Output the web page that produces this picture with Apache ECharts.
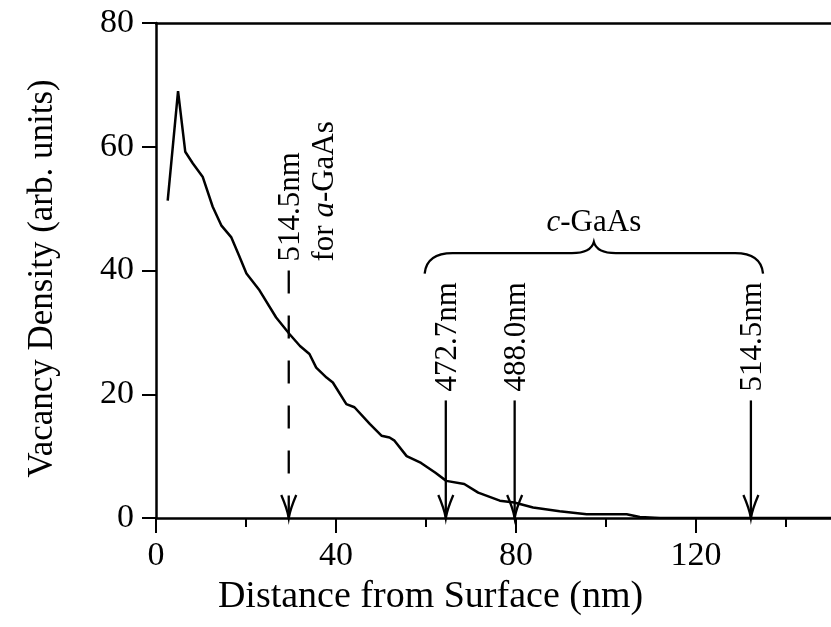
<!DOCTYPE html>
<html>
<head>
<meta charset="utf-8">
<script src="https://cdn.jsdelivr.net/npm/echarts@6/dist/echarts.min.js"></script>
<style>
  html, body { margin: 0; padding: 0; background: #fff; }
  #chart { width: 831px; height: 627px; }
</style>
</head>
<body>
<div id="chart"></div>
<script>
// Vacancy density profile below the surface
const depth = [2.6, 4.9, 6.5, 8.2, 10.4, 12.6, 14.5, 16.7, 18.4, 20.1, 23.0, 26.7, 29.7, 32.0, 34.1, 35.6, 37.9, 39.3, 42.3, 44.1, 47.5, 50.1, 51.9, 53.0, 55.7, 58.9, 62.1, 64.5, 68.5, 71.6, 76.4, 79.6, 83.8, 89.7, 95.7, 104.6, 107.5, 112, 150];
const density = [51.3, 69.0, 59.2, 57.3, 55.1, 50.3, 47.3, 45.4, 42.5, 39.5, 36.8, 32.4, 29.7, 27.8, 26.5, 24.3, 22.7, 21.9, 18.4, 17.9, 15.2, 13.3, 13.0, 12.5, 10.0, 8.9, 7.3, 6.0, 5.5, 4.1, 2.8, 2.5, 1.7, 1.1, 0.6, 0.6, 0.15, 0, 0];

// Axis tick labels
const xMajorTicks = [0, 40, 80, 120];
const xMinorTicks = [20, 60, 100, 140];
const yTicks = [0, 20, 40, 60, 80];

// Penetration-depth arrows (depth in nm, arrow starts at the given density level)
const arrowDepth = [29.5, 64.4, 79.7, 132.2];
const arrowFrom = [40, 19, 19, 19];
const arrowDashed = [1, 0, 0, 0];
const arrowLabel = ['514.5nm', '472.7nm', '488.0nm', '514.5nm'];
const arrowNote = ['for {i|a}-GaAs', '', '', ''];

// Brace grouping the crystalline-GaAs wavelengths
const braceSpan = [59.7, 134.9];
const braceLevel = [39.5, 42.8, 44.6];
const braceName = '{i|c}-GaAs';

const FONT = 'Liberation Serif';
const INK = '#000';

const chart = echarts.init(document.getElementById('chart'));

function renderArrow(params, api) {
  const x = api.value(0);
  const top = api.value(1);
  const dashed = api.value(2) === 1;
  const idx = params.dataIndex;
  const p0 = api.coord([x, top]);
  const p1 = api.coord([x, 0]);
  const hw = 7.5, hh = 23;
  const children = [
    {
      type: 'line',
      shape: { x1: p0[0], y1: p0[1], x2: p1[0], y2: p1[1] },
      style: { stroke: INK, lineWidth: 2.3, lineDash: dashed ? [23, 22] : null }
    },
    {
      type: 'path',
      shape: {
        pathData: 'M' + (p1[0] - hw) + ' ' + (p1[1] - hh) +
          ' Q' + (p1[0] - 1.5) + ' ' + (p1[1] - 9) + ' ' + p1[0] + ' ' + p1[1] +
          ' Q' + (p1[0] + 1.5) + ' ' + (p1[1] - 9) + ' ' + (p1[0] + hw) + ' ' + (p1[1] - hh)
      },
      style: { fill: 'none', stroke: INK, lineWidth: 2.3 }
    },
    {
      type: 'text',
      x: p0[0] + 2,
      y: p0[1] - 9,
      rotation: Math.PI / 2,
      style: {
        text: arrowLabel[idx], x: 0, y: 0,
        align: 'left', verticalAlign: 'middle',
        fontSize: 31, fontFamily: FONT, fill: INK
      }
    }
  ];
  if (arrowNote[idx]) {
    children.push({
      type: 'text',
      x: p0[0] + 36,
      y: p0[1] - 9,
      rotation: Math.PI / 2,
      style: {
        text: arrowNote[idx], x: 0, y: 0,
        align: 'left', verticalAlign: 'middle',
        fontSize: 31, fontFamily: FONT, fill: INK,
        rich: { i: { fontStyle: 'italic', fontSize: 31, fontFamily: FONT, fill: INK } }
      }
    });
  }
  return { type: 'group', children: children };
}

function renderBrace(params, api) {
  const a = api.coord([api.value(0), api.value(2)]);
  const b = api.coord([api.value(1), api.value(2)]);
  const mid = (api.value(0) + api.value(1)) / 2;
  const flatY = api.coord([mid, api.value(3)])[1];
  const tip = api.coord([mid, api.value(4)]);
  const d = [
    'M', a[0], a[1],
    'Q', a[0] + 2, flatY, a[0] + 28, flatY,
    'L', tip[0] - 22, flatY,
    'Q', tip[0] - 3, flatY, tip[0], tip[1],
    'Q', tip[0] + 3, flatY, tip[0] + 22, flatY,
    'L', b[0] - 28, flatY,
    'Q', b[0] - 2, flatY, b[0], b[1]
  ].join(' ');
  return {
    type: 'group',
    children: [
      { type: 'path', shape: { pathData: d }, style: { fill: 'none', stroke: INK, lineWidth: 2.3 } },
      {
        type: 'text',
        x: tip[0], y: tip[1] - 4,
        style: {
          text: braceName, x: 0, y: 0,
          align: 'center', verticalAlign: 'bottom',
          fontSize: 31, fontFamily: FONT, fill: INK,
          rich: { i: { fontStyle: 'italic', fontSize: 31, fontFamily: FONT, fill: INK } }
        }
      }
    ]
  };
}

const axisText = { color: INK, fontFamily: FONT, fontSize: 34 };

chart.setOption({
  backgroundColor: '#fff',
  animation: false,
  grid: { left: 156, right: 0, top: 23, bottom: 109, containLabel: false },
  xAxis: [
    {
      type: 'value', position: 'bottom', min: 0, max: 150,
      axisLine: { show: true, onZero: false, lineStyle: { color: INK, width: 2.5 } },
      axisTick: { show: true, inside: false, length: 15, customValues: xMajorTicks, lineStyle: { color: INK, width: 2 } },
      axisLabel: { show: true, margin: 21, customValues: xMajorTicks, ...axisText },
      splitLine: { show: false },
      name: 'Distance from Surface (nm)',
      nameLocation: 'middle',
      nameGap: 50,
      nameTextStyle: { color: INK, fontFamily: FONT, fontSize: 38, padding: [0, 126, 0, 0] }
    },
    {
      type: 'value', position: 'bottom', min: 0, max: 150,
      axisLine: { show: false },
      axisTick: { show: true, inside: false, length: 9, customValues: xMinorTicks, lineStyle: { color: INK, width: 2 } },
      axisLabel: { show: false },
      splitLine: { show: false }
    },
    {
      type: 'value', position: 'top', min: 0, max: 150,
      axisLine: { show: true, onZero: false, lineStyle: { color: INK, width: 2.5 } },
      axisTick: { show: false },
      axisLabel: { show: false },
      splitLine: { show: false }
    }
  ],
  yAxis: {
    type: 'value', min: 0, max: 80, interval: 20,
    axisLine: { show: true, onZero: false, lineStyle: { color: INK, width: 2.5 } },
    axisTick: { show: true, inside: false, length: 14, customValues: yTicks, lineStyle: { color: INK, width: 2 } },
    axisLabel: { show: true, margin: 22, customValues: yTicks, ...axisText },
    splitLine: { show: false },
    name: 'Vacancy Density (arb. units)',
    nameLocation: 'middle',
    nameGap: 96,
    nameTextStyle: { color: INK, fontFamily: FONT, fontSize: 35, padding: [0, 16, 0, 0] }
  },
  series: [
    {
      type: 'line',
      data: depth.map((d, i) => [d, density[i]]),
      symbol: 'none',
      lineStyle: { color: INK, width: 2.5 },
      z: 3
    },
    {
      type: 'custom',
      renderItem: renderArrow,
      data: arrowDepth.map((d, i) => [d, arrowFrom[i], arrowDashed[i]]),
      clip: false,
      z: 4
    },
    {
      type: 'custom',
      renderItem: renderBrace,
      data: [[braceSpan[0], braceSpan[1], braceLevel[0], braceLevel[1], braceLevel[2]]],
      clip: false,
      z: 4
    }
  ]
});
</script>
</body>
</html>
